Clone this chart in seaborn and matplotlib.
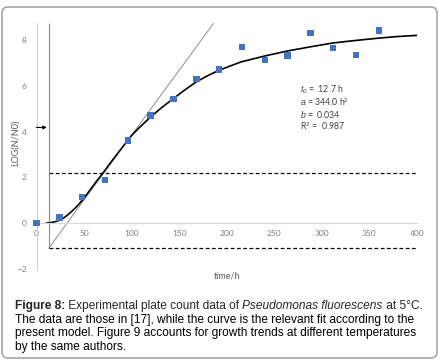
import numpy as np
import pandas as pd
import seaborn as sns
import matplotlib.pyplot as plt
from matplotlib.patches import FancyBboxPatch
from matplotlib.transforms import IdentityTransform

time_obs = [0, 24, 48, 72, 96, 120, 144, 168, 192, 216, 240, 264, 288, 312, 336, 360]
logn_obs = [0.0, 0.25, 1.15, 1.88, 3.62, 4.70, 5.43, 6.30, 6.72, 7.70, 7.12, 7.32, 8.30, 7.64, 7.34, 8.41]

# fitted curve, traced point by point
time_fit = [10, 15, 20, 25, 30, 35, 40, 45, 50, 55, 60, 70, 80, 90, 100, 107, 120, 132, 144, 156,
            168, 180, 192, 215, 240, 264, 288, 312, 336, 360, 380, 400]
logn_fit = [0.0, 0.02, 0.07, 0.14, 0.27, 0.44, 0.63, 0.85, 1.10, 1.38, 1.66, 2.20, 2.76, 3.30, 3.83,
            4.13, 4.64, 5.06, 5.44, 5.82, 6.17, 6.44, 6.68, 7.04, 7.30, 7.52, 7.70, 7.87, 7.98, 8.08, 8.15, 8.20]

# tangent at the inflection, lag-time marker and the two asymptote levels
tangent_t = [12.7, 186.6]
tangent_y = [-1.1, 8.75]
t0 = 12.7
levels = [2.17, -1.1]

params = [r"$t_0$ =  12.7 h", r"$a$ = 344.0 h$^2$", r"$b$ =  0.034", r"R$^2$ =  0.987"]

sns.set_style("white")
plt.rcParams['font.family'] = ['Lato', 'DejaVu Sans']
plt.rcParams['mathtext.fontset'] = 'custom'
plt.rcParams['mathtext.rm'] = 'Liberation Sans'
plt.rcParams['mathtext.it'] = 'Liberation Sans:italic'
plt.rcParams['mathtext.bf'] = 'Liberation Sans:bold'

fig = plt.figure(figsize=(4.47, 3.63), dpi=100)
ax = fig.add_axes([0.0817, 0.259, 0.851, 0.677])

obs = pd.DataFrame({'t': time_obs, 'y': logn_obs})
fit = pd.DataFrame({'t': time_fit, 'y': logn_fit})

ax.hlines(levels, t0, 400, colors='black', linestyles=(0, (3, 2)), lw=0.9)
ax.vlines(t0, levels[1], 8.73, colors='#8c8c8c', lw=0.8)
sns.lineplot(x=tangent_t, y=tangent_y, ax=ax, color='#8c8c8c', lw=0.7)
sns.lineplot(data=fit, x='t', y='y', ax=ax, color='black', lw=1.2)
sns.scatterplot(data=obs, x='t', y='y', ax=ax, marker='s', s=22, color='#4472C4',
                edgecolor='none', clip_on=False, zorder=5)

ax.annotate("", xy=(10.8, 4.18), xytext=(0, 4.18), annotation_clip=False,
            arrowprops=dict(arrowstyle='-|>', color='black', lw=0.8, mutation_scale=5,
                            shrinkA=0, shrinkB=0))

for i, s in enumerate(params):
    fig.text(300 / 447, 1 - (90 + 12 * i) / 363, s, fontsize=6.3, color='#404040', va='center')

ax.set_xlim(0, 400)
ax.set_ylim(-2, 8.73)
ax.set_xticks(range(0, 401, 50))
ax.set_yticks(range(-2, 9, 2))
for sp in ['top', 'right']:
    ax.spines[sp].set_visible(False)
ax.spines['bottom'].set_position(('data', 0))
ax.spines['bottom'].set_color('#d9d9d9')
ax.spines['left'].set_color('#d0d0d0')
ax.spines['bottom'].set_linewidth(0.8)
ax.spines['left'].set_linewidth(0.8)
ax.tick_params(length=0, labelsize=6, colors='#7f7f7f')
ax.tick_params(axis='x', pad=5)
ax.tick_params(axis='y', pad=7)

ax.set_xlabel("time/h", fontsize=6.5, color='#595959')
ax.xaxis.set_label_coords(0.5, -0.028)
ax.xaxis.label.set_va('center')
ax.set_ylabel("LOG(N/N0)", fontsize=6.5, color='#595959')
ax.yaxis.set_label_coords(-0.0565, 0.514)
ax.yaxis.label.set_va('center')

# caption: first line built from bold / regular / italic pieces
renderer = fig.canvas.get_renderer()
first = [("Figure 8:", 'bold', 'normal'), (" Experimental plate count data of ", 'normal', 'normal'),
         ("Pseudomonas fluorescens", 'normal', 'italic'), (" at 5°C.", 'normal', 'normal')]
x = 15
for piece, weight, style in first:
    t = fig.text(x / 447, 1 - 306 / 363, piece, fontsize=8.6, family='Liberation Sans',
                 weight=weight, style=style, va='center')
    x += t.get_window_extent(renderer).width

caption = ["The data are those in [17], while the curve is the relevant fit according to the",
           "present model. Figure 9 accounts for growth trends at different temperatures",
           "by the same authors."]
for i, line in enumerate(caption, start=1):
    fig.text(15 / 447, 1 - (306 + 13.7 * i) / 363, line, fontsize=8.6, color='black',
             family='Liberation Sans', va='center')

border = FancyBboxPatch((2, 5), 435, 351, boxstyle="round,pad=0,rounding_size=6",
                        transform=IdentityTransform(), fill=False, edgecolor='#a6a6a6', lw=1.2)
fig.patches.append(border)

fig.savefig('out.png', dpi=100)
